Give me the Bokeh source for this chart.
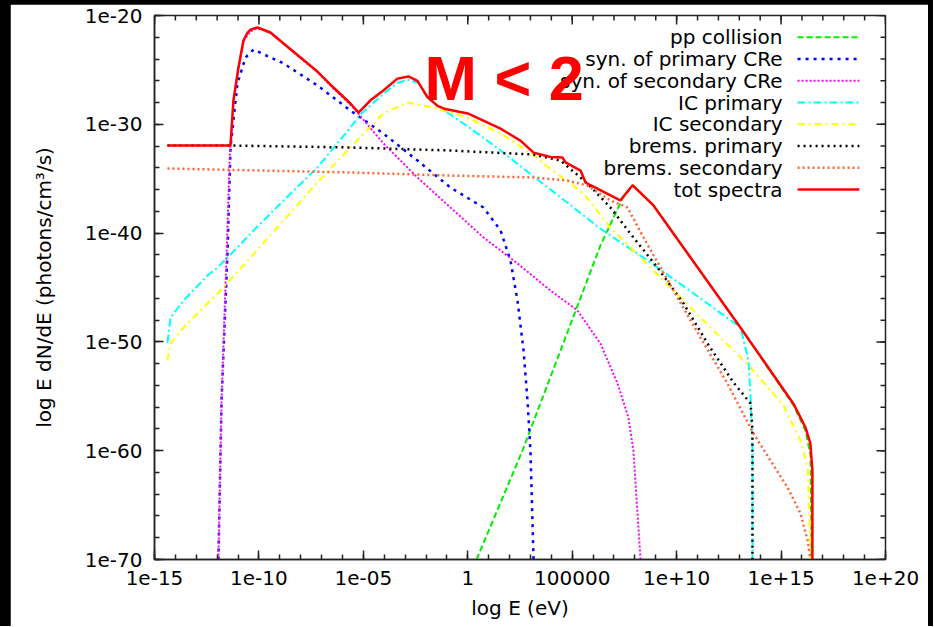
from bokeh.plotting import figure
from bokeh.models import FixedTicker, Label, Range1d, Column
from bokeh.embed import file_html
from bokeh.resources import INLINE

# ---- data: log10(E / eV) and log10(E dN/dE) ----
pp_logE = [0.42, 2.62, 4.44, 6.35, 7.41, 7.89, 8.27, 8.89, 13.06, 15.6, 16.17, 16.41, 16.46]
pp_logF = [-70, -59.98, -50.79, -41.14, -36.82, -35.6, -36.3, -37.46, -48.7, -55.85, -58.14, -60.44, -70]

synp_logE = [-11.94, -11.79, -11.5, -11.36, -11.03, -10.64, -10.26, -8.82, -7.2, -5.62, -4.04,
             -2.41, -0.83, 0.75, 1.57, 2.04, 2.38, 2.67, 2.86, 3.0, 3.15]
synp_logF = [-70, -55.4, -41.6, -32.13, -26.25, -23.86, -23.13, -24.41, -26.43, -28.73, -30.85,
             -33.33, -35.81, -37.65, -39.76, -42.5, -46.2, -50.8, -55.4, -60.0, -70]

syns_logE = [-11.94, -11.79, -11.55, -11.4, -11.22, -10.98, -10.74, -10.4, -10.07, -9.45, -8.82,
             -8.01, -7.2, -6.43, -5.62, -5.23, -4.04, -2.41, -0.83, 0.75, 1.57, 2.38, 3.96, 5.25,
             6.35, 7.17, 7.69, 7.93, 8.27]
syns_logF = [-70, -55.4, -42, -33, -27.9, -24.85, -22.35, -21.45, -21.15, -21.6, -22.6,
             -23.9, -25.2, -26.7, -28.2, -29.05, -31.76, -34.89, -37.65, -40.4, -41.6, -42.79, -45.28, -47.11,
             -50.15, -53.82, -56.95, -59.98, -70]

icp_logE = [-14.38, -14.23, -13.61, -12.46, -11.98, -11.03, -10.4, -8.82, -7.2, -5.62, -5.14, -4.04,
            -3.37, -2.84, -2.36, -1.93, -1.31, 0.0, 1.57, 3.15, 4.5, 6.35, 8.75, 11.14, 13.06, 13.44,
            13.54, 13.63, 13.63]
icp_logF = [-50.06, -47.76, -46.19, -43.9, -43.16, -41.32, -40.04, -37.0, -33.97, -30.29, -29.1, -27.2,
            -26.2, -25.9, -26.2, -27.6, -28.5, -30.2, -32.4, -34.8, -36.8, -39.6, -42.7, -46.0, -48.68, -51.7,
            -55.1, -60.0, -70]

ics_logE = [-14.38, -14.23, -13.61, -11.98, -10.4, -8.82, -7.2, -5.62, -4.04, -2.89, -1.64, 0.0, 1.57,
            3.15, 3.62, 5.54, 6.83, 8.75, 11.14, 13.54, 15.12, 15.93, 16.27, 16.41, 16.41]
ics_logF = [-51.71, -50.15, -48.68, -45.55, -42.24, -38.84, -35.35, -32.13, -29.0, -28.0, -28.46, -29.38,
            -30.85, -32.8, -33.6, -36.36, -39.49, -43.16, -47.76, -52.35, -55.85, -59.06, -61.54, -68.9, -70]

bremp_logE = [-14.38, -11.36, -5.62, -0.83, 3.15, 4.44, 5.73, 6.83, 7.93, 9.08, 10.33, 11.48, 12.72,
              13.54, 13.63, 13.63]
bremp_logF = [-31.95, -31.95, -32.13, -32.41, -32.78, -33.33, -35.44, -37.65, -40.4, -43.16, -46.47,
              -50.15, -53.73, -55.66, -58.14, -70]

brems_logE = [-14.38, -5.62, -0.83, 3.15, 4.77, 5.73, 6.83, 7.65, 8.41, 9.23, 10.04, 11.14, 12.43,
              13.68, 14.49, 15.31, 15.93, 16.27, 16.41]
brems_logF = [-34.06, -34.43, -34.71, -34.89, -35.17, -35.63, -37.0, -37.65, -40.4, -43.16, -45.92,
              -49.6, -53.82, -58.42, -60.9, -63.38, -65.77, -68.25, -70]

tot_logE = [-14.38, -11.36, -11.22, -10.98, -10.74, -10.55, -10.4, -10.07, -9.45, -8.82, -8.01, -7.2,
            -6.43, -5.62, -5.23, -4.66, -4.04, -3.37, -2.84, -2.41, -1.93, -1.45, -1.07, 0.0, 1.57, 2.52,
            3.15, 3.96, 4.53, 4.68, 5.4, 5.64, 5.88, 7.3, 7.89, 8.27, 8.89, 13.06, 15.6, 16.17, 16.4, 16.5,
            16.5]
tot_logF = [-31.95, -31.95, -27.8, -24.78, -22.3, -21.6, -21.3, -21.1, -21.56, -22.57, -23.86, -25.15,
            -26.62, -28.09, -28.92, -27.8, -26.9, -25.8, -25.6, -26.0, -27.5, -28.3, -28.6, -29.0, -30.4,
            -31.5, -32.6, -33.0, -33.05, -33.5, -34.25, -35.35, -35.6, -37.0, -35.6, -36.3, -37.46, -48.7,
            -55.7, -57.87, -59.3, -61.8, -70]

series_names = ["pp collision", "syn. of primary CRe", "syn. of secondary CRe", "IC primary",
                "IC secondary", "brems. primary", "brems. secondary", "tot spectra"]

x_ticks = [-15, -10, -5, 0, 5, 10, 15, 20]
x_tick_labels = ["1e-15", "1e-10", "1e-05", "1", "100000", "1e+10", "1e+15", "1e+20"]
y_ticks = [-70, -60, -50, -40, -30, -20]
y_tick_labels = ["1e-70", "1e-60", "1e-50", "1e-40", "1e-30", "1e-20"]
x_minor = list(range(-15, 21))
y_minor = list(range(-70, -19, 2))

# ---- styles ----
FONT = "DejaVu Sans"
AXC = "#222222"
styles = [
    dict(color="#00ee00", dash="6 3", width=2),
    dict(color="#0000ff", dash="3 5", width=2.5),
    dict(color="#ff00ff", dash="2 2", width=2),
    dict(color="#00ffff", dash="8 3 2 3", width=2),
    dict(color="#ffff00", dash="7 4 2 4", width=2),
    dict(color="#000000", dash="2 4", width=2.5),
    dict(color="#ff6432", dash="2 3", width=2.5),
    dict(color="#ff0000", dash="solid", width=2.5),
]
data = [(pp_logE, pp_logF), (synp_logE, synp_logF), (syns_logE, syns_logF), (icp_logE, icp_logF),
        (ics_logE, ics_logF), (bremp_logE, bremp_logF), (brems_logE, brems_logF), (tot_logE, tot_logF)]

FW, FH = 731, 544
XR, YR = (-15, 20), (-70, -20)
p = figure(frame_width=FW, frame_height=FH, output_backend="svg", toolbar_location=None,
           x_range=Range1d(*XR), y_range=Range1d(*YR),
           min_border_left=144, min_border_right=43, min_border_top=11, min_border_bottom=67)
p.margin = (4, 5, 0, 10)
p.background_fill_color = "white"
p.border_fill_color = "white"
p.outline_line_color = AXC
p.outline_line_width = 1.5
p.xgrid.visible = False
p.ygrid.visible = False

p.xaxis.ticker = FixedTicker(ticks=x_ticks, minor_ticks=x_minor)
p.yaxis.ticker = FixedTicker(ticks=y_ticks, minor_ticks=y_minor)
p.xaxis.major_label_overrides = {t: l for t, l in zip(x_ticks, x_tick_labels)}
p.yaxis.major_label_overrides = {t: l for t, l in zip(y_ticks, y_tick_labels)}
p.xaxis.axis_label = "log E (eV)"
p.yaxis.axis_label = "log E dN/dE (photons/cm³/s)"

for ax in (p.xaxis[0], p.yaxis[0]):
    ax.major_tick_in = 9
    ax.major_tick_out = 0
    ax.minor_tick_in = 5
    ax.minor_tick_out = 0
    ax.axis_line_color = AXC
    ax.axis_line_width = 1.5
    ax.major_tick_line_color = AXC
    ax.major_tick_line_width = 1.5
    ax.minor_tick_line_color = AXC
    ax.minor_tick_line_width = 1.5
    ax.major_label_text_font = FONT
    ax.major_label_text_color = "black"
    ax.major_label_text_font_size = "20px"
    ax.axis_label_text_font = FONT
    ax.axis_label_text_font_style = "normal"
    ax.axis_label_text_color = "black"
    ax.axis_label_text_font_size = "20px"
p.xaxis.major_label_standoff = 11
p.xaxis.axis_label_standoff = 8
p.yaxis.major_label_standoff = 12
p.yaxis.axis_label_standoff = 26

# mirrored inward ticks on the top and right frame edges (lengths in px -> data units)
dx_per_px = (XR[1] - XR[0]) / FW
dy_per_px = (YR[1] - YR[0]) / FH
for ticks, L in ((x_ticks, 9), (x_minor, 5)):
    p.segment(x0=ticks, y0=[YR[1]] * len(ticks), x1=ticks, y1=[YR[1] - L * dy_per_px] * len(ticks),
              line_color=AXC, line_width=1.5)
for ticks, L in ((y_ticks, 9), (y_minor, 5)):
    p.segment(x0=[XR[1]] * len(ticks), y0=ticks, x1=[XR[1] - L * dx_per_px] * len(ticks), y1=ticks,
              line_color=AXC, line_width=1.5)

for (xs, ys), st in zip(data, styles):
    p.line(xs, ys, line_color=st["color"], line_dash=st["dash"], line_width=st["width"])

# ---- gnuplot-style key (text right-aligned, sample to the right) ----
key_text_x = 15.07
key_line_x0, key_line_x1 = 15.79, 18.75
key_y0, key_dy = -22.0, -2.0
for i, (name, st) in enumerate(zip(series_names, styles)):
    yk = key_y0 + i * key_dy
    p.add_layout(Label(x=key_text_x, y=yk, text=name, text_align="right", text_baseline="middle",
                       text_font=FONT, text_font_size="20px", text_color="black"))
    p.line([key_line_x0, key_line_x1], [yk, yk], line_color=st["color"], line_dash=st["dash"],
           line_width=st["width"])

p.add_layout(Label(x=-2.07, y=-25.79, text="M < 2", text_align="left", text_baseline="alphabetic",
                   text_font="Liberation Sans", text_font_style="bold", text_font_size="63px",
                   text_color="#ff0000"))

page = Column(children=[p], styles={"background-color": "black"})

open("out.html", "w").write(file_html(page, INLINE))
